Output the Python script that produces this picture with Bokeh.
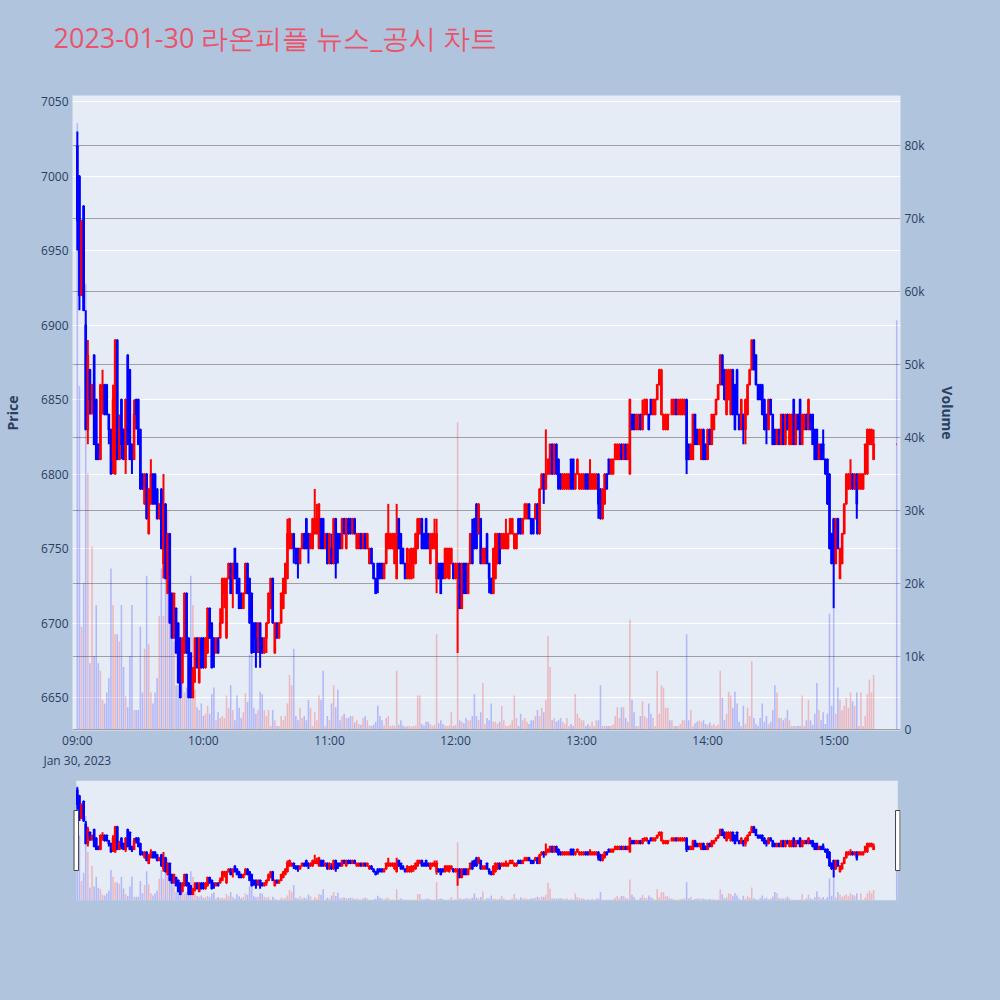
import pandas as pd
from bokeh.plotting import figure
from bokeh.models import (Range1d, LinearAxis, Grid, FixedTicker, NumeralTickFormatter,
                          DatetimeTickFormatter, ColumnDataSource, BoxAnnotation)
from bokeh.layouts import column
from bokeh.embed import file_html
from bokeh.resources import INLINE

TITLE = "2023-01-30 라온피플 뉴스_공시 차트"
DAY = "2023-01-30"
# one-minute session bars 09:00-15:19, then the 15:30 closing auction
times = pd.date_range(f"{DAY} 09:00", f"{DAY} 15:19", freq="min").append(pd.DatetimeIndex([f"{DAY} 15:30"]))
tick_times = ["09:00", "10:00", "11:00", "12:00", "13:00", "14:00", "15:00"]
price_ticks = [6650, 6700, 6750, 6800, 6850, 6900, 6950, 7000, 7050]
volume_ticks = [0, 10000, 20000, 30000, 40000, 50000, 60000, 70000, 80000]

opens = [
7020,7000,6920,6980,6900,6830,6870,6850,6880,6850, 6820,6810,6850,6860,6860,6840,6830,6810,6800,6890,
6810,6850,6830,6810,6880,6870,6820,6810,6850,6850, 6830,6800,6780,6800,6760,6780,6800,6800,6790,6770,
6790,6740,6780,6720,6760,6720,6690,6710,6700,6690, 6660,6680,6720,6690,6680,6650,6670,6690,6660,6690,
6690,6670,6680,6710,6700,6690,6680,6690,6690,6700, 6720,6690,6730,6740,6730,6750,6740,6730,6720,6710,
6720,6740,6730,6720,6700,6700,6690,6700,6690,6680, 6690,6700,6710,6730,6680,6700,6690,6700,6710,6720,
6730,6750,6750,6760,6750,6750,6740,6750,6760,6770, 6760,6750,6750,6760,6760,6750,6770,6770,6750,6760,
6740,6750,6740,6770,6760,6760,6750,6770,6750,6770, 6770,6760,6770,6750,6750,6760,6750,6760,6750,6740,
6750,6740,6730,6740,6740,6740,6730,6740,6750,6750, 6750,6740,6730,6770,6760,6750,6740,6730,6730,6730,
6740,6740,6750,6760,6770,6760,6770,6760,6740,6750, 6750,6730,6740,6740,6740,6730,6740,6730,6740,6740,
6730,6730,6740,6710,6740,6740,6720,6740,6760,6770, 6780,6760,6770,6740,6740,6760,6740,6730,6720,6730,
6740,6760,6750,6750,6750,6750,6760,6760,6750,6750, 6770,6770,6760,6770,6770,6780,6770,6770,6770,6780,
6760,6790,6800,6790,6800,6800,6820,6800,6820,6810, 6800,6790,6790,6790,6790,6810,6810,6790,6800,6790,
6790,6790,6800,6800,6790,6790,6790,6790,6800,6790, 6770,6780,6800,6810,6800,6800,6810,6810,6810,6820,
6810,6820,6810,6800,6840,6840,6830,6830,6840,6830, 6840,6840,6840,6850,6840,6840,6850,6860,6840,6830,
6830,6830,6840,6840,6840,6850,6840,6840,6840,6840, 6850,6820,6810,6810,6840,6830,6820,6810,6830,6820,
6810,6830,6820,6830,6840,6850,6860,6880,6870,6840, 6850,6840,6870,6860,6870,6840,6830,6840,6830,6840,
6860,6870,6890,6880,6860,6860,6860,6850,6840,6830, 6850,6840,6830,6820,6830,6820,6840,6820,6840,6820,
6820,6850,6820,6840,6850,6820,6830,6840,6830,6840, 6840,6830,6830,6810,6820,6820,6810,6810,6800,6760,
6770,6740,6770,6730,6740,6760,6780,6790,6790,6800, 6790,6800,6790,6790,6790,6800,6800,6820,6820,6810,
6820]
highs = [
7030,7000,6970,6980,6910,6890,6870,6860,6880,6850, 6820,6860,6870,6860,6860,6840,6830,6860,6890,6890,
6840,6850,6830,6850,6880,6870,6820,6850,6850,6850, 6830,6800,6800,6800,6790,6810,6800,6800,6790,6780,
6790,6800,6780,6760,6760,6720,6720,6710,6700,6690, 6690,6720,6720,6690,6680,6670,6690,6690,6690,6690,
6690,6690,6710,6710,6700,6690,6690,6690,6710,6730, 6730,6730,6740,6740,6740,6750,6740,6730,6720,6720,
6740,6740,6730,6720,6700,6700,6700,6700,6690,6690, 6700,6720,6730,6730,6700,6700,6700,6720,6730,6740,
6770,6770,6760,6760,6750,6750,6750,6760,6760,6770, 6760,6760,6770,6790,6780,6780,6770,6770,6760,6760,
6760,6760,6770,6770,6760,6760,6770,6770,6770,6770, 6770,6770,6770,6760,6760,6760,6760,6760,6760,6750,
6750,6740,6730,6740,6740,6740,6740,6760,6780,6760, 6760,6760,6780,6770,6760,6750,6740,6750,6750,6750,
6750,6760,6770,6770,6770,6760,6770,6760,6760,6760, 6770,6770,6740,6740,6740,6750,6750,6750,6750,6740,
6740,6740,6740,6740,6740,6740,6740,6760,6770,6770, 6780,6780,6770,6750,6750,6760,6740,6730,6750,6760,
6760,6760,6760,6760,6770,6760,6770,6770,6760,6760, 6770,6770,6770,6780,6780,6780,6770,6770,6780,6780,
6790,6800,6800,6830,6810,6820,6820,6820,6820,6810, 6800,6800,6800,6800,6800,6810,6810,6800,6810,6800,
6800,6800,6800,6800,6810,6800,6800,6800,6800,6790, 6790,6800,6800,6810,6810,6810,6820,6820,6820,6820,
6820,6820,6820,6850,6840,6840,6840,6840,6840,6850, 6850,6850,6840,6850,6850,6850,6860,6870,6870,6840,
6840,6840,6840,6850,6850,6850,6850,6850,6850,6850, 6850,6820,6820,6840,6840,6830,6830,6830,6830,6820,
6830,6830,6840,6840,6850,6860,6880,6880,6870,6870, 6870,6870,6870,6860,6870,6840,6850,6840,6850,6860,
6870,6890,6890,6880,6860,6860,6860,6850,6840,6850, 6850,6840,6830,6830,6830,6840,6840,6840,6840,6840,
6840,6850,6840,6840,6850,6840,6840,6840,6850,6840, 6840,6830,6830,6820,6820,6830,6810,6810,6800,6760,
6770,6770,6770,6750,6760,6780,6800,6800,6810,6800, 6800,6800,6800,6800,6800,6820,6830,6830,6830,6830,
6820]
lows = [
6950,6910,6920,6910,6830,6820,6840,6840,6820,6810, 6810,6810,6840,6840,6840,6820,6800,6800,6800,6810,
6810,6810,6810,6800,6820,6810,6800,6810,6830,6820, 6790,6790,6780,6770,6760,6780,6780,6780,6770,6770,
6750,6730,6730,6720,6700,6690,6690,6680,6660,6650, 6660,6680,6680,6650,6650,6650,6660,6670,6660,6670,
6670,6670,6680,6690,6670,6670,6680,6680,6690,6700, 6710,6690,6730,6720,6710,6730,6720,6710,6710,6710,
6720,6720,6700,6680,6680,6670,6680,6670,6680,6680, 6680,6700,6710,6700,6680,6690,6690,6700,6710,6720,
6730,6750,6750,6740,6740,6730,6740,6750,6750,6750, 6740,6750,6750,6760,6760,6750,6750,6750,6750,6740,
6740,6740,6740,6730,6740,6750,6750,6760,6750,6760, 6760,6760,6760,6750,6750,6750,6750,6750,6750,6740,
6740,6730,6720,6720,6730,6730,6730,6740,6750,6750, 6750,6740,6730,6750,6740,6740,6730,6730,6730,6730,
6730,6740,6750,6760,6750,6750,6750,6750,6740,6750, 6750,6720,6730,6720,6730,6730,6730,6730,6740,6730,
6730,6680,6710,6710,6720,6720,6720,6740,6740,6750, 6750,6760,6740,6740,6740,6740,6720,6720,6720,6730,
6740,6740,6750,6750,6750,6750,6760,6760,6750,6750, 6760,6760,6760,6770,6770,6770,6760,6760,6770,6760,
6760,6790,6780,6790,6800,6800,6800,6800,6800,6790, 6790,6790,6790,6790,6790,6790,6790,6790,6800,6790,
6790,6790,6790,6790,6790,6790,6790,6790,6770,6770, 6770,6780,6790,6800,6800,6800,6810,6810,6810,6810,
6810,6810,6810,6800,6830,6830,6830,6830,6830,6830, 6840,6840,6830,6840,6840,6840,6850,6860,6840,6830,
6830,6830,6840,6840,6840,6840,6840,6840,6840,6840, 6800,6810,6810,6810,6820,6820,6820,6810,6810,6810,
6810,6820,6820,6830,6840,6850,6860,6860,6850,6840, 6850,6840,6840,6830,6840,6830,6830,6820,6820,6840,
6860,6870,6870,6860,6850,6850,6840,6830,6820,6830, 6840,6820,6820,6820,6820,6820,6820,6820,6830,6820,
6820,6820,6820,6830,6820,6820,6830,6830,6830,6830, 6820,6810,6810,6810,6810,6810,6800,6780,6750,6740,
6710,6740,6750,6730,6740,6760,6780,6790,6790,6790, 6790,6770,6790,6790,6790,6800,6800,6820,6820,6810,
6820]
closes = [
6970,6920,6970,6910,6830,6880,6850,6860,6820,6810, 6810,6860,6860,6840,6840,6830,6800,6850,6890,6810,
6830,6820,6810,6850,6820,6810,6810,6840,6840,6820, 6790,6790,6800,6770,6790,6800,6780,6780,6770,6780,
6750,6780,6730,6760,6700,6690,6720,6680,6660,6650, 6690,6720,6680,6650,6650,6670,6690,6670,6690,6670,
6670,6690,6710,6690,6670,6680,6690,6680,6700,6730, 6730,6730,6740,6720,6740,6730,6720,6710,6710,6720,
6740,6720,6700,6680,6690,6680,6700,6680,6680,6690, 6700,6720,6730,6700,6700,6690,6700,6720,6730,6740,
6760,6770,6760,6750,6740,6740,6750,6760,6750,6750, 6750,6760,6770,6770,6770,6780,6750,6750,6760,6740,
6760,6740,6770,6740,6750,6750,6770,6760,6770,6760, 6760,6770,6760,6760,6760,6750,6760,6750,6760,6750,
6740,6730,6720,6730,6730,6730,6740,6760,6760,6760, 6760,6760,6760,6750,6740,6740,6730,6750,6740,6750,
6750,6760,6770,6770,6750,6750,6750,6750,6760,6760, 6760,6760,6730,6720,6730,6750,6750,6750,6750,6730,
6740,6740,6710,6740,6720,6720,6740,6760,6740,6750, 6750,6780,6740,6750,6750,6740,6730,6720,6750,6760,
6760,6740,6760,6760,6760,6760,6770,6770,6760,6760, 6760,6760,6770,6780,6780,6770,6760,6760,6780,6760,
6790,6800,6790,6800,6810,6820,6800,6820,6800,6790, 6790,6800,6800,6800,6800,6790,6790,6800,6810,6800,
6800,6800,6790,6790,6800,6800,6800,6800,6780,6770, 6790,6800,6790,6800,6810,6810,6820,6820,6820,6810,
6820,6810,6820,6850,6830,6830,6840,6840,6830,6840, 6850,6850,6830,6840,6850,6850,6860,6870,6870,6840,
6840,6840,6840,6850,6850,6840,6850,6850,6850,6850, 6810,6810,6820,6840,6820,6820,6830,6830,6810,6810,
6830,6820,6840,6840,6850,6860,6880,6860,6850,6870, 6870,6870,6840,6830,6840,6830,6850,6830,6850,6860,
6870,6890,6870,6860,6850,6850,6840,6830,6830,6850, 6840,6820,6820,6830,6820,6840,6820,6840,6830,6840,
6840,6820,6840,6830,6820,6840,6840,6830,6850,6830, 6820,6810,6810,6820,6810,6810,6800,6780,6750,6740,
6740,6770,6750,6750,6760,6780,6800,6800,6800,6790, 6800,6780,6800,6800,6800,6820,6830,6830,6830,6820,
6820]
volumes = [
83000,47000,14000,20000,61000,35000,9000,25000,10000,17000, 9000,8000,4000,3500,5000,7000,22000,17000,13000,13000,
12000,17000,8500,4500,3000,10000,17000,2600,2600,2600, 14000,5000,11000,21000,11600,5000,3500,5000,7000,15500,
22000,15500,21000,30000,16000,14000,12000,6000,6000,5400, 12000,5000,5700,7700,21000,17000,5400,3000,2600,3500,
1800,2100,3200,2100,4800,5700,1200,2300,1500,1800, 1500,4600,2900,6000,2600,1200,4600,2900,1500,2300,
4900,3700,10200,10200,2900,2100,2600,5100,4800,2600, 1800,2600,400,2600,1200,400,400,1800,1200,1800,
3500,7400,6000,11000,1800,1200,2900,1500,1800,1200, 4000,2900,400,2300,1200,4600,4000,8000,400,1800,
1200,3500,6000,3000,5400,1200,1800,2100,1500,1500, 1800,1800,900,1200,700,600,1500,1800,1200,500,
400,600,1000,3200,1800,1200,500,1500,1800,400, 500,400,8000,600,1200,500,300,400,400,300,
400,500,4600,4600,700,500,1000,1000,700,400, 600,13000,800,1200,700,500,400,500,2300,400,
600,42000,1200,1000,800,1500,1200,1200,1800,4800, 1800,1200,2300,6300,700,1500,1200,3500,1000,1000,
700,1000,3200,1200,400,400,600,1200,4600,1500, 400,2100,1200,1500,1000,700,1200,1200,1800,2600,
1800,2900,2300,4000,12700,8500,1200,1500,1000,1200, 1500,1000,700,1500,400,700,400,4800,2100,1500,
1200,1200,400,700,400,1000,400,1200,1200,6000, 400,400,400,400,400,600,1800,3000,1500,3000,
3000,1500,1000,15000,4000,2300,400,400,1800,3800, 1800,1500,3500,2100,1500,400,8000,2100,6000,5700,
2900,2900,1200,1200,400,400,400,700,1200,1200, 13000,1200,2600,400,800,1000,1200,1000,1200,700,
600,900,500,700,400,600,8000,4300,1200,2100, 5100,4600,2900,5100,3500,1000,400,3200,700,2900,
1800,9300,1500,700,400,1500,3500,1000,1800,700, 1000,2600,6000,5000,1500,1500,1200,1500,2600,1200,
400,400,400,400,400,4600,400,1200,4000,1200, 600,2100,6300,2600,1200,2300,700,2100,15800,3200,
16500,2100,5700,4000,2600,3200,4300,2900,5000,3800, 3200,5000,400,5000,400,1800,4800,6800,5000,7400,
56000]

# ---- styling constants ----
BG = "#b0c4de"
PLOT_BG = "#e5ecf6"
FONT = "Open Sans"
TXT = "#2a3f5f"
MIN = pd.Timedelta(minutes=1)

# candle direction as plotly decides it (flat bars follow the previous close)
candle_colors = []
inc, prev_c = True, None
for o, c in zip(opens, closes):
    if c == o:
        if prev_c is not None and c != prev_c:
            inc = c > prev_c
    else:
        inc = c > o
    prev_c = c
    candle_colors.append("#ff0000" if inc else "#0000ff")
vol_colors = ["#ff0000" if c > o else "#0000ff" for o, c in zip(opens, closes)]

src = ColumnDataSource(dict(
    t=times, open=opens, high=highs, low=lows, close=closes,
    top=[max(o, c) for o, c in zip(opens, closes)],
    bottom=[min(o, c) for o, c in zip(opens, closes)],
    vol=volumes, ccol=candle_colors, vcol=vol_colors))

x_start = times[0] - 2.3 * MIN
x_end = times[-1] + 1.8 * MIN
price_lo, price_hi = 6627.9, 7054.1
vol_lo, vol_hi = -200, 86800
bar_w = 0.75 * 60000
body_w = 0.3 * 60000


def draw_series(fig):
    fig.vbar(x="t", top="vol", bottom=0, width=bar_w, source=src, y_range_name="vol",
             fill_color="vcol", fill_alpha=0.22, line_color=None)
    fig.segment(x0="t", y0="low", x1="t", y1="high", source=src, line_color="ccol", line_width=2)
    fig.vbar(x="t", top="top", bottom="bottom", width=body_w, source=src,
             fill_color="ccol", line_color="ccol", line_width=2)


W = 1000
L, R, T = 68, 900, 95
# ---------------- main chart ----------------
p = figure(width=W, height=775, x_axis_type="datetime", output_backend="svg", toolbar_location=None,
           x_range=Range1d(x_start, x_end), y_range=Range1d(price_lo, price_hi),
           background_fill_color=PLOT_BG, border_fill_color=BG, outline_line_color=None,
           min_border_left=L, min_border_right=W - R, min_border_top=T, min_border_bottom=45)
p.extra_y_ranges = {"vol": Range1d(vol_lo, vol_hi)}

# title text plus an empty second line, so that it sits higher above the frame
p.title.text = TITLE + "\n"
p.title.align = "left"
p.title.vertical_align = "bottom"
p.title.text_font = FONT
p.title.text_font_size = "27px"
p.title.text_font_style = "normal"
p.title.text_line_height = 1.0
p.title.text_color = "#e9546b"
p.title.offset = -19
p.title.standoff = 6

p.xgrid.visible = False
p.ygrid.ticker = FixedTicker(ticks=price_ticks)
p.ygrid.grid_line_color = "white"
p.ygrid.grid_line_width = 1

vol_axis = LinearAxis(y_range_name="vol", ticker=FixedTicker(ticks=volume_ticks),
                      formatter=NumeralTickFormatter(format="0a"), axis_label="Volume")
p.add_layout(vol_axis, "right")
vol_grid = Grid(dimension=1, ticker=vol_axis.ticker, y_range_name="vol",
                grid_line_color="#a0a0a0", grid_line_width=1)
p.add_layout(vol_grid)

xfmt = DatetimeTickFormatter(hours="%H:%M", minutes="%H:%M",
                             context=DatetimeTickFormatter(hours="%b %d, %Y", minutes="%b %d, %Y"),
                             context_which="start")
p.xaxis.ticker = FixedTicker(ticks=[pd.Timestamp(f"{DAY} {h}").value / 1e6 for h in tick_times])
p.xaxis.formatter = xfmt
p.yaxis[0].ticker = FixedTicker(ticks=price_ticks)
p.yaxis[0].axis_label = "Price"

for ax in [p.xaxis[0], p.yaxis[0], vol_axis]:
    ax.axis_line_color = None
    ax.major_tick_line_color = None
    ax.minor_tick_line_color = None
    ax.major_tick_out = 0
    ax.major_tick_in = 0
    ax.minor_tick_out = 0
    ax.major_label_text_font = FONT
    ax.major_label_text_font_size = "12px"
    ax.major_label_text_color = TXT
    ax.axis_label_text_font = FONT
    ax.axis_label_text_font_size = "14px"
    ax.axis_label_text_font_style = "bold"
    ax.axis_label_text_color = TXT
    ax.major_label_standoff = 4
p.yaxis[0].axis_label_standoff = 16
vol_axis.axis_label_standoff = 10
p.xaxis[0].major_label_standoff = 1

draw_series(p)

# ---------------- range slider ----------------
s = figure(width=W, height=135, x_axis_type="datetime", output_backend="svg", toolbar_location=None,
           x_range=Range1d(x_start, x_end), y_range=Range1d(price_lo, price_hi),
           x_axis_location=None, y_axis_location=None,
           background_fill_color=BG, border_fill_color=BG, outline_line_color=None,
           min_border_left=L, min_border_right=W - R, min_border_top=5, min_border_bottom=10)
s.extra_y_ranges = {"vol": Range1d(vol_lo, vol_hi)}
s.grid.visible = False
sl_left = (times[0] - 0.5 * MIN).value / 1e6
sl_right = (times[-1] + 0.5 * MIN).value / 1e6
s.add_layout(BoxAnnotation(left=sl_left, right=sl_right, fill_color=PLOT_BG, fill_alpha=1,
                           line_color=None, level="underlay"))
draw_series(s)
mid = (price_lo + price_hi) / 2
s.rect(x=[sl_left, sl_right], y=[mid, mid], width=4.5, height=60, width_units="screen",
       height_units="screen", fill_color="white", line_color="#444444", line_width=1)

layout = column(p, s, spacing=0)
html = file_html(layout, INLINE, title=TITLE)
html = html.replace("</head>", "<style>html, body { background-color: #b0c4de; }</style></head>", 1)
open("out.html", "w").write(html)
